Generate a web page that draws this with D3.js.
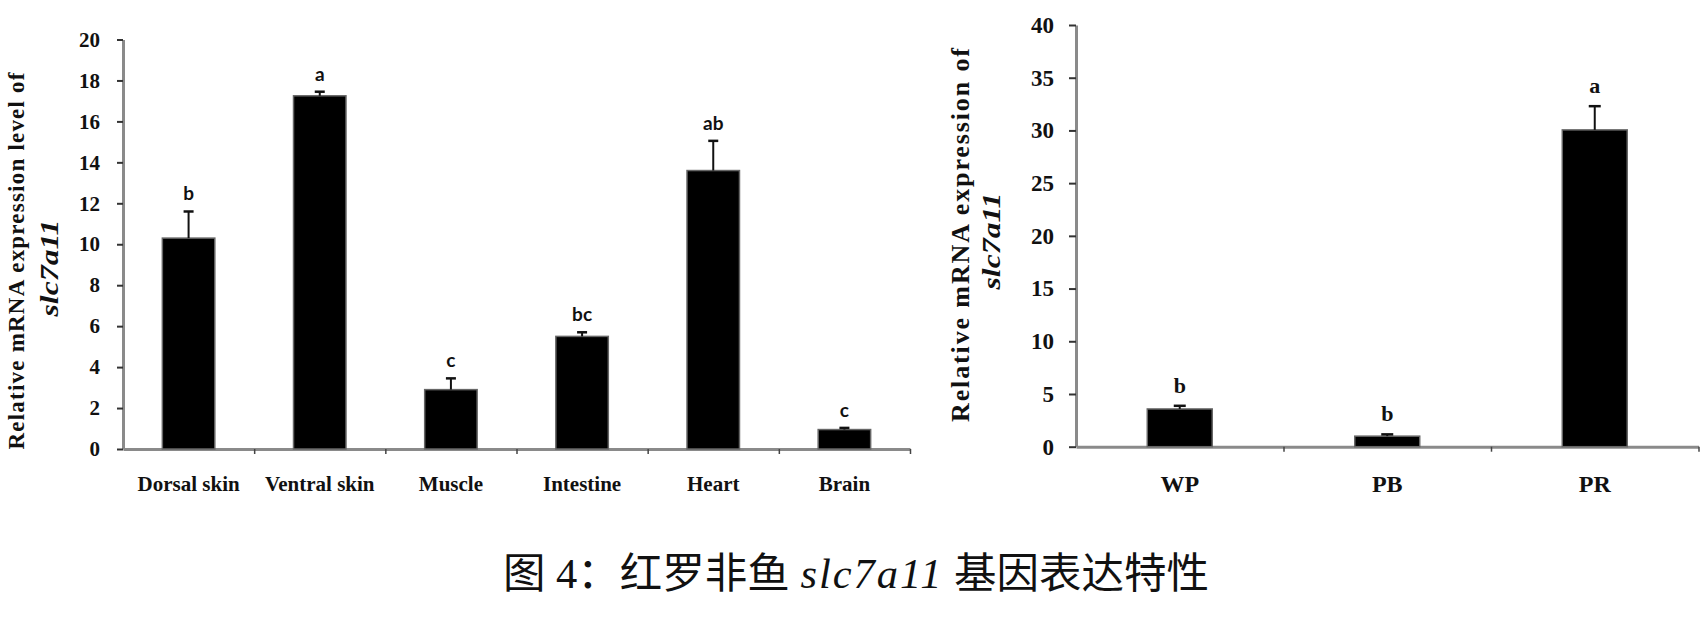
<!DOCTYPE html>
<html>
<head>
<meta charset="utf-8">
<script src="https://cdn.jsdelivr.net/npm/d3@7"></script>
<style>
  html, body { margin: 0; padding: 0; background: #fff; }
  svg { display: block; }
</style>
</head>
<body>
<svg id="chart" width="1706" height="621"></svg>
<script>
// ---- Data ----
const tissues = ["Dorsal skin", "Ventral skin", "Muscle", "Intestine", "Heart", "Brain"];
const tissueMeans = [10.3, 17.25, 2.9, 5.5, 13.6, 0.95];
const tissueErr = [1.3, 0.2, 0.55, 0.2, 1.45, 0.08];
const tissueLetters = ["b", "a", "c", "bc", "ab", "c"];
const tissueTicks = [0, 2, 4, 6, 8, 10, 12, 14, 16, 18, 20];

const colorGroups = ["WP", "PB", "PR"];
const colorMeans = [3.58, 1.0, 30.05];
const colorErr = [0.3, 0.17, 2.25];
const colorLetters = ["b", "b", "a"];
const colorTicks = [0, 5, 10, 15, 20, 25, 30, 35, 40];

const svg = d3.select("#chart");
const serif = "'Liberation Serif', 'Times New Roman', serif";

function panel(cfg) {
  const g = svg.append("g");
  const x = d3.scaleBand().domain(cfg.cats).range(cfg.xRange)
    .paddingInner(cfg.pad).paddingOuter(cfg.pad / 2);
  const y = d3.scaleLinear().domain(cfg.yDomain).range(cfg.yRange);
  const y0 = y(0);
  const rows = cfg.cats.map((c, i) => ({ c, m: cfg.means[i], e: cfg.errs[i], l: cfg.letters[i] }));

  // x axis line + boundary ticks
  const xb = d3.scaleLinear().domain([0, cfg.cats.length]).range(cfg.xRange);
  const xAxisG = g.append("g").attr("transform", `translate(0,${y0})`)
    .call(d3.axisBottom(xb).tickValues(d3.range(1, cfg.cats.length + 1)).tickFormat("").tickSize(5).tickSizeOuter(0));
  xAxisG.select(".domain").attr("stroke", "#8a8a8a").attr("stroke-width", 3);
  xAxisG.selectAll(".tick line").attr("stroke", "#444").attr("stroke-width", 1.5);

  // category labels
  const xl = g.append("g").attr("transform", `translate(0,${y0})`)
    .call(d3.axisBottom(x).tickSize(0).tickPadding(cfg.xLabPad));
  xl.select(".domain").remove();
  xl.selectAll("text").attr("font-family", serif).attr("font-weight", "bold")
    .attr("font-size", cfg.xLabSize).attr("fill", "#111");

  // y axis
  const ya = g.append("g").attr("transform", `translate(${cfg.xRange[0]},0)`)
    .call(d3.axisLeft(y).tickValues(cfg.ticks).tickSize(cfg.tickLen).tickPadding(cfg.tickPad).tickSizeOuter(0));
  ya.select(".domain").attr("stroke", "#8a8a8a").attr("stroke-width", 3);
  ya.selectAll(".tick line").attr("stroke", "#333").attr("stroke-width", 2);
  ya.selectAll("text").attr("font-family", serif).attr("font-weight", "bold")
    .attr("font-size", cfg.tickSize).attr("fill", "#111");

  // bars
  g.selectAll("rect.bar").data(rows).join("rect").attr("class", "bar")
    .attr("x", d => x(d.c)).attr("width", x.bandwidth())
    .attr("y", d => y(d.m)).attr("height", d => y0 - y(d.m))
    .attr("fill", "#000").attr("stroke", "#666").attr("stroke-width", 1.5);

  // error bars
  const eg = g.selectAll("g.err").data(rows).join("g").attr("class", "err");
  eg.append("line")
    .attr("x1", d => x(d.c) + x.bandwidth() / 2).attr("x2", d => x(d.c) + x.bandwidth() / 2)
    .attr("y1", d => y(d.m)).attr("y2", d => y(d.m + d.e))
    .attr("stroke", "#111").attr("stroke-width", 2);
  eg.append("line")
    .attr("x1", d => x(d.c) + x.bandwidth() / 2 - cfg.cap / 2).attr("x2", d => x(d.c) + x.bandwidth() / 2 + cfg.cap / 2)
    .attr("y1", d => y(d.m + d.e)).attr("y2", d => y(d.m + d.e))
    .attr("stroke", "#111").attr("stroke-width", 2.5);

  // significance letters
  g.selectAll("text.sig").data(rows).join("text").attr("class", "sig")
    .attr("x", d => x(d.c) + x.bandwidth() / 2)
    .attr("y", d => y(d.m + d.e) - cfg.letterGap)
    .attr("text-anchor", "middle")
    .attr("font-family", cfg.letterFont).attr("font-weight", "bold")
    .attr("font-size", cfg.letterSize).attr("fill", "#111")
    .text(d => d.l);

  // y title
  const t1 = cfg.title1;
  g.append("text")
    .attr("transform", `translate(${t1.x},${t1.y}) rotate(-90)`)
    .attr("text-anchor", "middle").attr("dy", "0.35em")
    .attr("font-family", serif).attr("font-weight", "bold").attr("font-size", t1.size)
    .attr("textLength", t1.len).attr("lengthAdjust", "spacing").attr("fill", "#111")
    .text(t1.text);
  const t2 = cfg.title2;
  g.append("text")
    .attr("transform", `translate(${t2.x},${t2.y}) rotate(-90)`)
    .attr("text-anchor", "middle").attr("dy", "0.35em")
    .attr("font-family", serif).attr("font-weight", "bold").attr("font-style", "italic")
    .attr("font-size", t2.size)
    .attr("textLength", t2.len).attr("lengthAdjust", "spacingAndGlyphs").attr("fill", "#111")
    .text(t2.text);
}

panel({
  cats: tissues, means: tissueMeans, errs: tissueErr, letters: tissueLetters, ticks: tissueTicks,
  xRange: [123, 910], pad: 0.6, yDomain: [0, 20], yRange: [449, 39.5],
  tickLen: 6, tickPad: 17, tickSize: 21, xLabSize: 21, xLabPad: 27,
  cap: 10, letterGap: 11, letterFont: "Lato, 'Open Sans', sans-serif", letterSize: 19,
  title1: { x: 16, y: 261, size: 23, len: 377, text: "Relative mRNA expression level of" },
  title2: { x: 49, y: 268, size: 26, len: 97, text: "slc7a11" }
});

panel({
  cats: colorGroups, means: colorMeans, errs: colorErr, letters: colorLetters, ticks: colorTicks,
  xRange: [1076, 1698.5], pad: 0.687, yDomain: [0, 40], yRange: [446.7, 25],
  tickLen: 7, tickPad: 15, tickSize: 23, xLabSize: 24, xLabPad: 28,
  cap: 12, letterGap: 13, letterFont: serif, letterSize: 22,
  title1: { x: 960, y: 235, size: 26, len: 374, text: "Relative mRNA expression of" },
  title2: { x: 991, y: 241, size: 26, len: 97, text: "slc7a11" }
});

// caption
const cap = svg.append("text")
  .attr("x", 856).attr("y", 588).attr("text-anchor", "middle")
  .attr("font-family", "'Liberation Serif', 'Noto Sans CJK SC', serif")
  .attr("font-size", 42.5).attr("fill", "#111");
cap.append("tspan").text("图 4：红罗非鱼 ");
cap.append("tspan").attr("font-style", "italic").attr("letter-spacing", 2).text("slc7a11");
cap.append("tspan").attr("letter-spacing", 0).text(" 基因表达特性");
</script>
</body>
</html>
